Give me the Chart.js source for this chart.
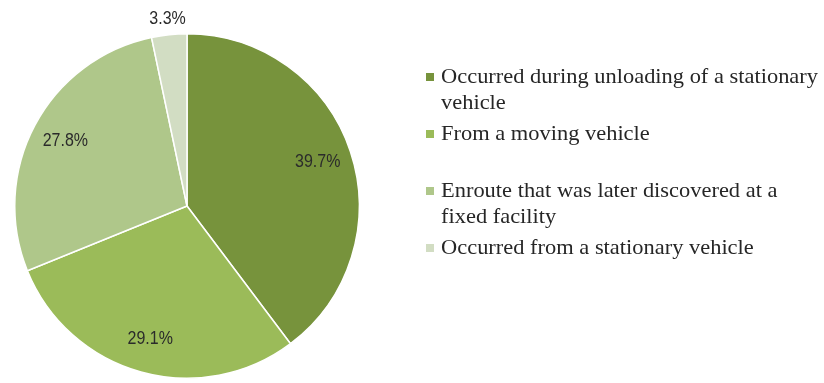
<!doctype html>
<html lang="en">
<head>
  <meta charset="utf-8">
  <title>Spill location</title>
  <script src="https://cdn.jsdelivr.net/npm/chart.js@4.4.0/dist/chart.umd.min.js"></script>
  <style>
    body { margin: 0; background: #fff; }
    .wrap { width: 824px; height: 383px; }
  </style>
</head>
<body>
  <div class="wrap"><canvas id="myChart"></canvas></div>

  <script>
    const labels = [
      ['Occurred during unloading of a stationary', 'vehicle'],
      ['From a moving vehicle'],
      ['Enroute that was later discovered at a', 'fixed facility'],
      ['Occurred from a stationary vehicle']
    ];
    const shares = [39.7, 29.1, 27.8, 3.3];
    const colors = ['#77933c', '#9bbb59', '#afc78a', '#d2ddc3'];

    // percentage labels: inside the slice, or just outside for small ones
    const sliceLabels = {
      id: 'sliceLabels',
      afterDatasetsDraw(chart) {
        const ctx = chart.ctx;
        const meta = chart.getDatasetMeta(0);
        ctx.save();
        ctx.font = "16px 'Liberation Sans', sans-serif";
        ctx.fillStyle = '#2b2b2b';
        ctx.textAlign = 'center';
        ctx.textBaseline = 'middle';
        meta.data.forEach((arc, i) => {
          const p = arc.getProps(['x', 'y', 'startAngle', 'endAngle', 'outerRadius'], true);
          const mid = (p.startAngle + p.endAngle) / 2;
          const r = shares[i] < 5 ? p.outerRadius * 1.09 : p.outerRadius * 0.8;
          const x = p.x + Math.cos(mid) * r;
          const y = p.y + Math.sin(mid) * r;
          ctx.save();
          ctx.translate(x, y);
          ctx.scale(1, 1.1);
          ctx.fillText(shares[i].toFixed(1) + '%', 0, 0);
          ctx.restore();
        });
        ctx.restore();
      }
    };

    // legend block on the right, first line of each entry 57px apart
    const sideLegend = {
      id: 'sideLegend',
      afterDraw(chart) {
        const ctx = chart.ctx;
        const left = 426, top = 77, pitch = 57, lineH = 26;
        ctx.save();
        ctx.font = "22px 'Liberation Serif', serif";
        ctx.textBaseline = 'middle';
        ctx.textAlign = 'left';
        labels.forEach((lines, i) => {
          const y = top + i * pitch;
          ctx.fillStyle = colors[i];
          ctx.fillRect(left, y - 4, 8, 8);
          ctx.fillStyle = '#262626';
          lines.forEach((line, j) => {
            ctx.save();
            ctx.translate(left + 15, y + j * lineH);
            ctx.scale(1.02, 1);
            ctx.fillText(line, 0, 0);
            ctx.restore();
          });
        });
        ctx.restore();
      }
    };

    new Chart(document.getElementById('myChart'), {
      type: 'pie',
      data: {
        labels: labels.map(l => l.join(' ')),
        datasets: [{
          data: shares,
          backgroundColor: colors,
          borderColor: '#ffffff',
          borderWidth: 1.5
        }]
      },
      options: {
        responsive: true,
        maintainAspectRatio: false,
        animation: false,
        layout: { padding: { left: 14, top: 33, right: 464, bottom: 4 } },
        plugins: {
          legend: { display: false },
          tooltip: { enabled: false }
        }
      },
      plugins: [sliceLabels, sideLegend]
    });
  </script>
</body>
</html>
